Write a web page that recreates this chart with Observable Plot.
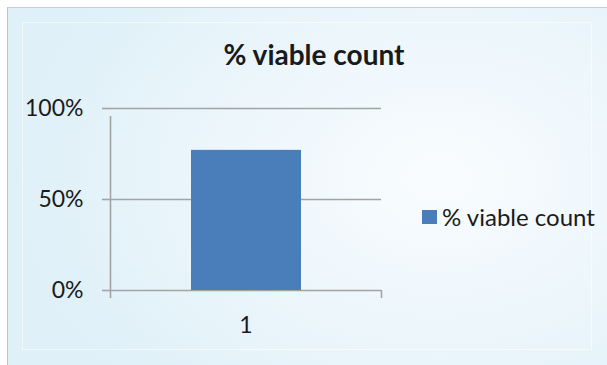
<!DOCTYPE html>
<html>
<head>
<meta charset="utf-8">
<script src="https://cdn.jsdelivr.net/npm/d3@7"></script>
<script src="https://cdn.jsdelivr.net/npm/@observablehq/plot@0.6"></script>
<style>
  html, body { margin: 0; padding: 0; background: #ffffff; overflow: hidden; }
  #wrap { position: relative; width: 607px; height: 365px; overflow: hidden; font-family: Lato, "Noto Sans", sans-serif; }
  #bg { position: absolute; left: 7px; top: 7px; width: 700px; height: 450px;
        border-left: 1.5px solid #b7c7cc; border-top: 1.5px solid #c3d1d5;
        background: radial-gradient(ellipse 420px 300px at 430px 170px, #f9fcfe 0%, #eef7fc 45%, #dff0f8 100%); }
  #inner { position: absolute; left: 22px; top: 22px; width: 568px; height: 326px; border: 1px solid rgba(255,255,255,0.55); }
  #title { position: absolute; left: 0; width: 628px; top: 37px; text-align: center; font-weight: 700; font-size: 28px; line-height: 34px; color: #1a1a1a; }
  #chart { position: absolute; left: 0; top: 0; }
  #legend { position: absolute; left: 422px; top: 202px; display: flex; align-items: center; font-size: 24px; line-height: 30px; color: #1a1a1a; }
  #legend .sw { width: 15px; height: 14px; margin-right: 5px; }
</style>
</head>
<body>
<div id="wrap">
  <div id="bg"></div>
  <div id="inner"></div>
  <div id="title"></div>
  <div id="chart"></div>
  <div id="legend"></div>
</div>
<script>
const chartTitle = "% viable count";
const categories = ["1"];
const seriesName = "% viable count";
const values = [0.77];
const yTicks = [0, 0.5, 1];
const barColor = "#4a7ebb";
const lineColor = "#a3a3a3";

const data = categories.map((c, i) => ({cat: c, i, v: values[i]}));

document.getElementById("title").textContent = chartTitle;
document.getElementById("legend").innerHTML =
  `<div class="sw" style="background:${barColor}"></div><span>${seriesName}</span>`;

const plot = Plot.plot({
  width: 607,
  height: 365,
  marginLeft: 110,
  marginRight: 226,
  marginTop: 108,
  marginBottom: 75,
  style: {background: "transparent", fontFamily: "Lato, 'Noto Sans', sans-serif", fontSize: "23px", color: "#1a1a1a", overflow: "visible"},
  x: {type: "linear", domain: [0, categories.length]},
  y: {domain: [0, 1]},
  marks: [
    Plot.ruleY(yTicks, {x1: 0, x2: categories.length, stroke: lineColor, strokeWidth: 1.6}),
    Plot.axisY({ticks: yTicks, tickFormat: d3.format(".0%"), tickSize: 8, tickPadding: 19, stroke: lineColor, strokeWidth: 1.6, label: null, fill: "#1a1a1a", fontSize: 23}),
    Plot.ruleX([0], {y1: 0, y2: 1, insetBottom: -8, stroke: lineColor, strokeWidth: 1.6}),
    Plot.axisX({ticks: d3.range(categories.length + 1), tickSize: 8, tickFormat: () => "", stroke: lineColor, strokeWidth: 1.6, label: null}),
    Plot.rectY(data, {x1: "i", x2: d => d.i + 1, y1: 0, y2: "v", fill: barColor, insetLeft: 81, insetRight: 80}),
    Plot.text(data, {x: d => d.i + 0.5, y: 0, text: "cat", dy: 35, fontSize: 23, fill: "#1a1a1a"})
  ]
});
document.getElementById("chart").appendChild(plot);
</script>
</body>
</html>
